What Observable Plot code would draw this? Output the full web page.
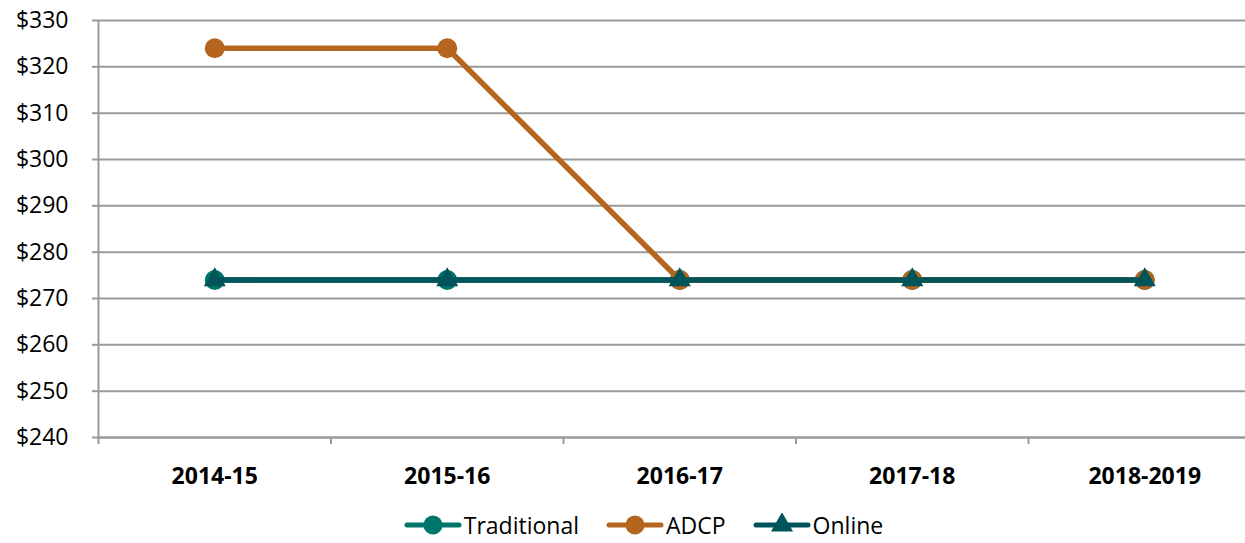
<!DOCTYPE html>
<html>
<head>
<meta charset="utf-8">
<script src="https://cdn.jsdelivr.net/npm/d3@7"></script>
<script src="https://cdn.jsdelivr.net/npm/@observablehq/plot@0.6"></script>
<style>
  html, body { margin: 0; padding: 0; background: #fff; overflow: hidden; }
  #chart { width: 1245px; height: 490px; }
  .legend { display: flex; justify-content: center; align-items: center; gap: 27px; font-family: "Open Sans", sans-serif; font-size: 23px; line-height: 24px; color: #000; margin-top: 23px; margin-left: 21px; width: 1245px; }
  .legend-item { display: flex; align-items: center; height: 24px; }
  .legend-item svg { margin-right: 2px; }
</style>
</head>
<body>
<div id="chart"></div>
<script>
const years = ["2014-15", "2015-16", "2016-17", "2017-18", "2018-2019"];
const traditional = [274, 274, 274, 274, 274];
const adcp = [324, 324, 274, 274, 274];
const online = [274, 274, 274, 274, 274];
const yTicks = [240, 250, 260, 270, 280, 290, 300, 310, 320, 330];
const seriesNames = ["Traditional", "ADCP", "Online"];
const seriesColors = ["#00766A", "#B5651D", "#00545A"];
const seriesSymbols = ["circle", "circle", "triangle"];

const rows = (vals, name) => vals.map((v, i) => ({i, year: years[i], value: v, series: name}));
const tradRows = rows(traditional, "Traditional");
const adcpRows = rows(adcp, "ADCP");
const onlineRows = rows(online, "Online");

const boundaries = d3.range(years.length + 1).map(i => i - 0.5);
const centers = d3.range(years.length);

const font = '"Open Sans", sans-serif';

const seriesMarks = (data, k) => [
  Plot.line(data, {x: "i", y: "value", stroke: seriesColors[k], strokeWidth: 5.5}),
  Plot.dot(data, {x: "i", y: "value", fill: seriesColors[k], stroke: "none", symbol: seriesSymbols[k], r: k === 2 ? 8.2 : 10})
];

const plot = Plot.plot({
  width: 1245,
  height: 490,
  marginLeft: 98,
  marginRight: 0,
  marginTop: 20,
  marginBottom: 53,
  style: {fontFamily: font, fontSize: "23px", color: "#000", background: "#fff"},
  x: {type: "linear", domain: [-0.5, years.length - 0.5], range: [98, 1260.5]},
  y: {domain: [240, 330]},
  marks: [
    Plot.gridY(yTicks, {stroke: "#9a9a9a", strokeOpacity: 1, strokeWidth: 2}),
    Plot.axisY({ticks: yTicks, tickFormat: d => "$" + d, tickSize: 6, tickPadding: 24, stroke: "#9a9a9a", strokeWidth: 2, fontSize: 23, fill: "#000", label: null}),
    Plot.axisX({ticks: boundaries, tickFormat: () => "", tickSize: 7, stroke: "#9a9a9a", strokeWidth: 2, label: null}),
    Plot.axisX({ticks: centers, tickFormat: i => years[i], tickSize: 0, tickPadding: 30, fontWeight: "bold", fontSize: 23, fill: "#000", label: null}),
    Plot.ruleX([-0.5], {stroke: "#9a9a9a", strokeWidth: 2}),
    Plot.ruleY([240], {stroke: "#9a9a9a", strokeWidth: 2}),
    ...seriesMarks(tradRows, 0),
    ...seriesMarks(adcpRows, 1),
    ...seriesMarks(onlineRows, 2)
  ]
});
document.getElementById("chart").appendChild(plot);

// legend
const legend = document.createElement("div");
legend.className = "legend";
seriesNames.forEach((name, k) => {
  const item = document.createElement("div");
  item.className = "legend-item";
  const sw = d3.create("svg").attr("width", 58).attr("height", 24);
  sw.append("line").attr("x1", 3).attr("x2", 55).attr("y1", 12).attr("y2", 12)
    .attr("stroke", seriesColors[k]).attr("stroke-width", 5).attr("stroke-linecap", "round");
  if (seriesSymbols[k] === "circle") {
    sw.append("circle").attr("cx", 29).attr("cy", 12).attr("r", 9.5).attr("fill", seriesColors[k]);
  } else {
    sw.append("path").attr("d", d3.symbol(d3.symbolTriangle, 8.2 * 8.2 * Math.PI)()).attr("transform", "translate(29,12)").attr("fill", seriesColors[k]);
  }
  item.appendChild(sw.node());
  const label = document.createElement("span");
  label.textContent = name;
  item.appendChild(label);
  legend.appendChild(item);
});
document.body.appendChild(legend);
</script>
</body>
</html>
